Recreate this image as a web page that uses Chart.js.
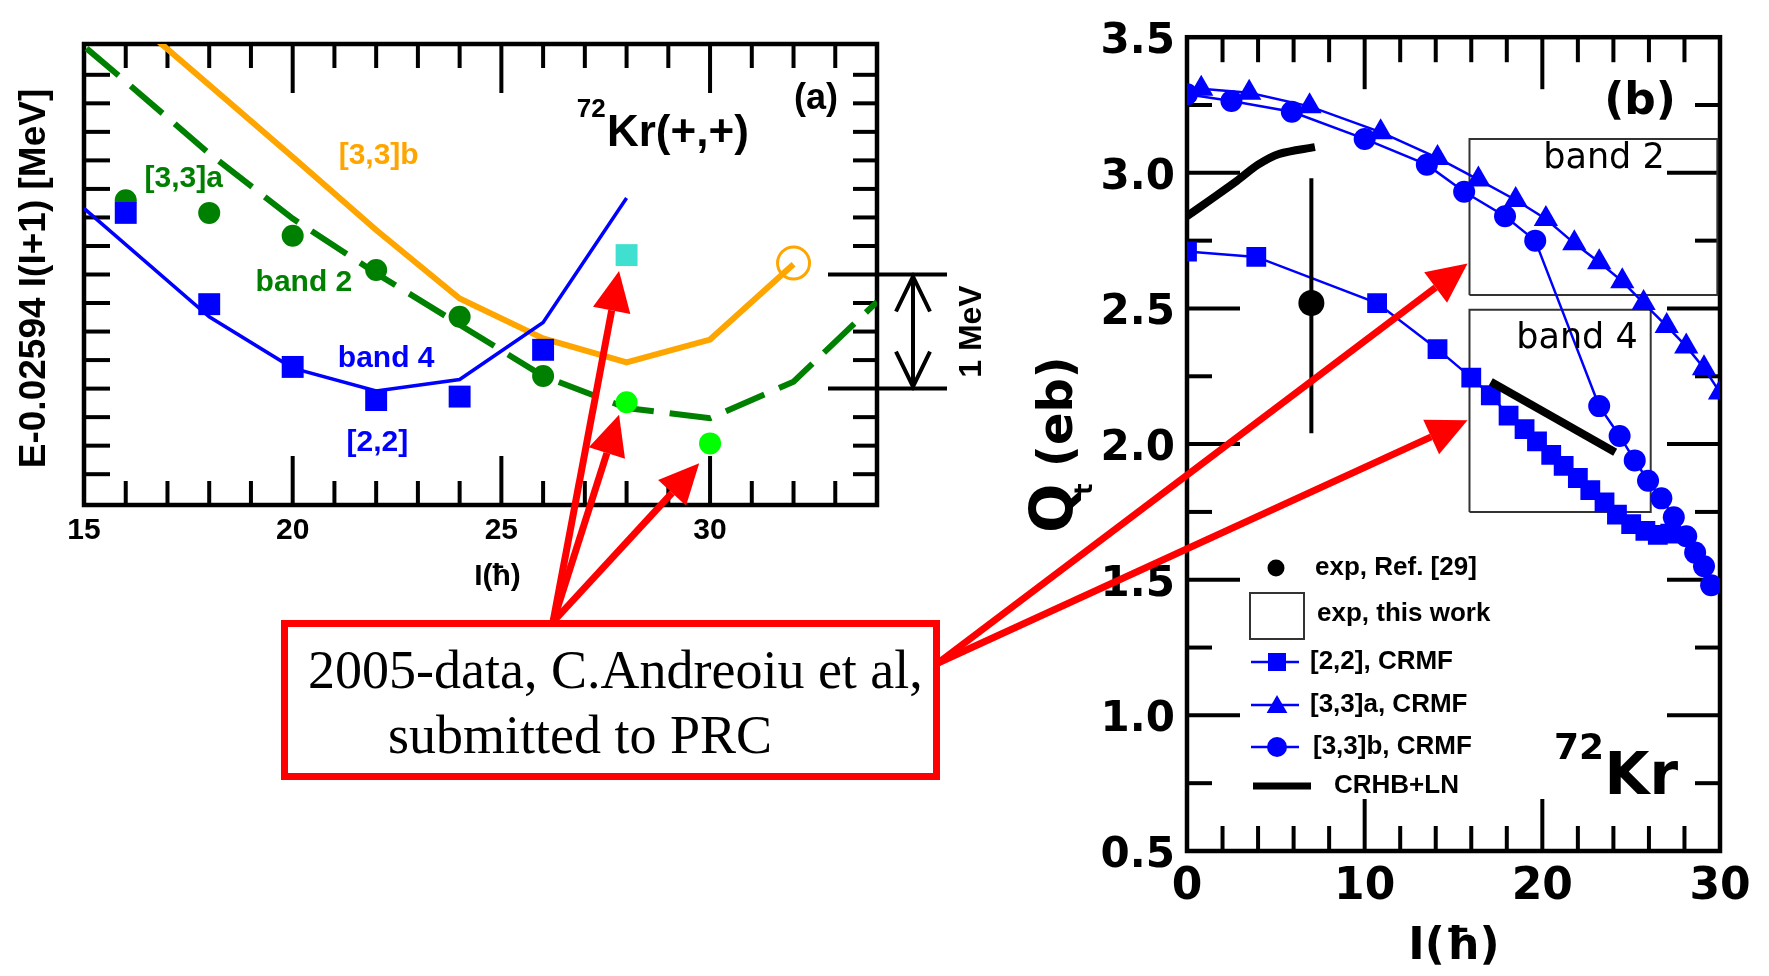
<!DOCTYPE html>
<html>
<head>
<meta charset="utf-8">
<script src="https://cdn.jsdelivr.net/npm/chart.js@4.4.1/dist/chart.umd.min.js"></script>
<style>
  html, body { margin: 0; padding: 0; background: #fff; }
  body { width: 1769px; height: 976px; position: relative; overflow: hidden; }
  canvas { position: absolute; }
  #chartA { left: 0; top: 0; }
  #chartB { left: 1000px; top: 0; }
  #overlay { left: 0; top: 0; pointer-events: none; }
  #note { position: absolute; left: 281px; top: 620px; width: 659px; height: 160px; border: 7px solid #ff0000; box-sizing: border-box; }
  .noteLine { position: absolute; font-family: "Liberation Serif", "Times New Roman", serif; font-size: 54px; line-height: 60px; white-space: nowrap; color: #000; }
</style>
</head>
<body>
<canvas id="chartA" width="1000" height="600"></canvas>
<canvas id="chartB" width="769" height="976"></canvas>
<div id="note"></div>
<div class="noteLine" style="left:308px;top:640px">2005-data, C.Andreoiu et al,</div>
<div class="noteLine" style="left:388px;top:705px">submitted to PRC</div>
<canvas id="overlay" width="1769" height="976"></canvas>
<script>
// ---------- panel (a): E - 0.02594 I(I+1) [MeV] vs I ----------
const spinExpA = [16, 18, 20, 22, 24, 26];
const band4Exp = [2.54, 1.74, 1.19, 0.90, 0.93, 1.34];
const band2Exp = [2.65, 2.54, 2.34, 2.04, 1.63, 1.11];
const spinNew2 = [28, 30];
const band2New = [0.88, 0.52];
const spinNew4 = [28];
const band4New = [2.17];
const spinCalc22 = [15, 18, 20, 22, 24, 26, 28];
const calc22 = [2.58, 1.63, 1.18, 0.98, 1.08, 1.58, 2.67];
const spinCalc33a = [14, 16, 18, 20, 22, 24, 26, 28, 30, 32, 34];
const calc33a = [4.31, 3.69, 3.06, 2.49, 2.01, 1.56, 1.11, 0.83, 0.74, 1.06, 1.76];
const spinCalc33b = [16, 18, 20, 22, 24, 26, 28, 30, 32];
const calc33b = [4.29, 3.66, 3.03, 2.39, 1.79, 1.44, 1.23, 1.43, 2.09];
const spinOpen = [32];
const openVal = [2.10];
const xTicksA = [15, 20, 25, 30];

// ---------- panel (b): Qt (eb) vs I ----------
const spin22 = [0, 3.9, 10.7, 14.1, 16.0, 17.1, 18.1, 19.0, 19.7, 20.5, 21.2, 22.0, 22.7, 23.5, 24.2, 25.0, 25.8, 26.5, 27.2];
const qt22 = [2.71, 2.69, 2.52, 2.35, 2.245, 2.18, 2.105, 2.055, 2.01, 1.96, 1.92, 1.875, 1.83, 1.785, 1.74, 1.705, 1.68, 1.665, 1.67];
const spin33a = [0.8, 3.5, 6.9, 10.9, 14.1, 16.4, 18.5, 20.2, 21.8, 23.2, 24.5, 25.7, 27.0, 28.1, 29.1, 30.0];
const qt33a = [3.31, 3.295, 3.245, 3.15, 3.055, 2.975, 2.90, 2.83, 2.74, 2.67, 2.60, 2.52, 2.435, 2.36, 2.28, 2.19];
const spin33b = [0, 2.5, 5.9, 10.0, 13.5, 15.6, 17.9, 19.6, 23.2, 24.35, 25.2, 25.95, 26.7, 27.4, 28.1, 28.6, 29.1, 29.5];
const qt33b = [3.29, 3.265, 3.225, 3.125, 3.03, 2.93, 2.84, 2.75, 2.14, 2.03, 1.94, 1.865, 1.80, 1.73, 1.66, 1.60, 1.55, 1.48];
const spinCrhb1 = [0, 1.3, 2.8, 4.0, 5.2, 7.2];
const qtCrhb1 = [2.84, 2.90, 2.97, 3.03, 3.07, 3.095];
const spinCrhb2 = [17.1, 24.1];
const qtCrhb2 = [2.23, 1.97];
const spinRef = [7.0];
const qtRef = [2.52];
const qtRefErr = [2.04, 2.98];
const band2Box = { I: [15.9, 29.85], Q: [2.55, 3.125] };
const band4Box = { I: [15.9, 26.1], Q: [1.75, 2.495] };
const xTicksB = [0, 10, 20, 30];
const yTicksB = [0.5, 1.0, 1.5, 2.0, 2.5, 3.0, 3.5];
const legendB = ['exp, Ref. [29]', 'exp, this work', '[2,2], CRMF', '[3,3]a, CRMF', '[3,3]b, CRMF', 'CRHB+LN'];

// arrow tips [I, value] in each panel
const arrowTipsA = [[27.82, 2.03], [27.82, 0.77], [29.74, 0.345]];
const arrowTipsB = [[15.79, 2.666], [15.79, 2.088]];

const FONT_A = '"Liberation Sans", Arial, Helvetica, sans-serif';
const FONT_B = '"DejaVu Sans", Verdana, sans-serif';
const BLUE = '#0000ff', GREEN = '#008000', ORANGE = '#ffa500';

function pts(xs, ys) { return xs.map((x, i) => ({ x: x, y: ys[i] })); }
function boxPts(b) {
  return [{ x: b.I[0], y: b.Q[0] }, { x: b.I[1], y: b.Q[0] }, { x: b.I[1], y: b.Q[1] }, { x: b.I[0], y: b.Q[1] }, { x: b.I[0], y: b.Q[0] }];
}
function seg(ctx, x0, y0, x1, y1) { ctx.beginPath(); ctx.moveTo(x0, y0); ctx.lineTo(x1, y1); ctx.stroke(); }
function label(ctx, s, x, y, font, color, align) {
  ctx.font = font; ctx.fillStyle = color || '#000';
  ctx.textAlign = align || 'center'; ctx.textBaseline = 'middle';
  ctx.fillText(s, x, y);
}
function tri(ctx, x, y, r) {
  ctx.beginPath();
  ctx.moveTo(x, y - r);
  ctx.lineTo(x + r * 0.866, y + r * 0.5);
  ctx.lineTo(x - r * 0.866, y + r * 0.5);
  ctx.closePath(); ctx.fill();
}
function dot(ctx, x, y, r) { ctx.beginPath(); ctx.arc(x, y, r, 0, Math.PI * 2); ctx.fill(); }

// ---------- chart (a) ----------
const decoA = {
  id: 'decoA',
  beforeDatasetsDraw(chart) {
    const ctx = chart.ctx, a = chart.chartArea, xs = chart.scales.x, ys = chart.scales.y;
    ctx.save();
    ctx.strokeStyle = '#000'; ctx.lineWidth = 4;
    for (let v = 16; v < 34; v++) {
      const len = xTicksA.includes(v) ? 49 : 24, px = xs.getPixelForValue(v);
      seg(ctx, px, a.bottom, px, a.bottom - len);
      seg(ctx, px, a.top, px, a.top + len);
    }
    for (let v = 0.25; v < 4; v += 0.25) {
      const py = ys.getPixelForValue(v);
      seg(ctx, a.left, py, a.left + 26, py);
      const len = (v === 1 || v === 2) ? 49 : 24;
      seg(ctx, a.right, py, a.right - len, py);
    }
    ctx.lineWidth = 4.5;
    ctx.strokeRect(a.left, a.top, a.right - a.left, a.bottom - a.top);
    ctx.restore();
  },
  afterDatasetsDraw(chart) {
    const ctx = chart.ctx, a = chart.chartArea, xs = chart.scales.x, ys = chart.scales.y;
    ctx.save();
    const labelsA = [
      { text: '[3,3]b', x: 22.06, y: 3.04, color: ORANGE },
      { text: '[3,3]a', x: 17.39, y: 2.84, color: GREEN },
      { text: 'band 2', x: 20.27, y: 1.93, color: GREEN },
      { text: 'band 4', x: 22.24, y: 1.26, color: BLUE },
      { text: '[2,2]', x: 22.03, y: 0.53, color: BLUE }
    ];
    labelsA.forEach(l => label(ctx, l.text, xs.getPixelForValue(l.x), ys.getPixelForValue(l.y), 'bold 30px ' + FONT_A, l.color));
    label(ctx, '(a)', xs.getPixelForValue(32.54), ys.getPixelForValue(3.54), 'bold 36px ' + FONT_A, '#000');
    label(ctx, '72', xs.getPixelForValue(27.5), ys.getPixelForValue(3.44), 'bold 26px ' + FONT_A, '#000', 'right');
    label(ctx, 'Kr(+,+)', xs.getPixelForValue(27.53), ys.getPixelForValue(3.23), 'bold 44px ' + FONT_A, '#000', 'left');

    // axis titles
    label(ctx, 'I(ħ)', (a.left + a.right) / 2 + 17, 577, 'bold 30px ' + FONT_A, '#000');
    ctx.save();
    ctx.translate(45, (a.top + a.bottom) / 2 + 4);
    ctx.rotate(-Math.PI / 2);
    ctx.font = 'bold 37px ' + FONT_A; ctx.fillStyle = '#000';
    ctx.textAlign = 'center'; ctx.textBaseline = 'alphabetic';
    ctx.fillText('E-0.02594 I(I+1) [MeV]', 0, 0);
    ctx.restore();

    // 1 MeV scale bar
    const y1 = ys.getPixelForValue(1), y2 = ys.getPixelForValue(2), bx = a.right + 36;
    ctx.strokeStyle = '#000'; ctx.lineWidth = 4;
    seg(ctx, a.right, y1, a.right + 70, y1);
    seg(ctx, a.right, y2, a.right + 70, y2);
    seg(ctx, bx, y2, bx, y1);
    ctx.beginPath();
    ctx.moveTo(bx - 17, y2 + 37); ctx.lineTo(bx, y2 + 2); ctx.lineTo(bx + 17, y2 + 37);
    ctx.moveTo(bx - 17, y1 - 37); ctx.lineTo(bx, y1 - 2); ctx.lineTo(bx + 17, y1 - 37);
    ctx.stroke();
    ctx.save();
    ctx.translate(a.right + 104, (y1 + y2) / 2);
    ctx.rotate(-Math.PI / 2);
    ctx.font = 'bold 32px ' + FONT_A; ctx.fillStyle = '#000';
    ctx.textAlign = 'center'; ctx.textBaseline = 'alphabetic';
    ctx.fillText('1 MeV', 0, 0);
    ctx.restore();
    ctx.restore();
  }
};

const chartA = new Chart(document.getElementById('chartA'), {
  type: 'scatter',
  data: {
    datasets: [
      { label: '[3,3]b calc', data: pts(spinCalc33b, calc33b), showLine: true, borderColor: ORANGE, borderWidth: 6, pointRadius: 0, order: 9 },
      { label: '[3,3]a calc', data: pts(spinCalc33a, calc33a), showLine: true, borderColor: GREEN, borderWidth: 6, borderDash: [42, 16], pointRadius: 0, order: 8 },
      { label: '[2,2] calc', data: pts(spinCalc22, calc22), showLine: true, borderColor: BLUE, borderWidth: 3.5, pointRadius: 0, order: 7 },
      { label: 'band 4', data: pts(spinExpA, band4Exp), pointStyle: 'rect', pointRadius: 15.5, pointBackgroundColor: BLUE, pointBorderWidth: 0, order: 5 },
      { label: 'band 2', data: pts(spinExpA, band2Exp), pointStyle: 'circle', pointRadius: 11, pointBackgroundColor: GREEN, pointBorderWidth: 0, order: 5 },
      { label: 'band 4 new', data: pts(spinNew4, band4New), pointStyle: 'rect', pointRadius: 15.5, pointBackgroundColor: '#40e0d0', pointBorderWidth: 0, order: 4 },
      { label: 'band 2 new', data: pts(spinNew2, band2New), pointStyle: 'circle', pointRadius: 11, pointBackgroundColor: '#00ff00', pointBorderWidth: 0, order: 4 },
      { label: '[3,3]b end', data: pts(spinOpen, openVal), pointStyle: 'circle', pointRadius: 16, pointBackgroundColor: 'rgba(0,0,0,0)', pointBorderColor: ORANGE, pointBorderWidth: 3, order: 3 }
    ]
  },
  options: {
    responsive: false, animation: false, events: [],
    layout: { padding: { left: 0, top: 44, right: 123, bottom: 0 } },
    plugins: { legend: { display: false }, tooltip: { enabled: false } },
    scales: {
      x: {
        type: 'linear', min: 15, max: 34,
        afterBuildTicks: s => { s.ticks = xTicksA.map(v => ({ value: v })); },
        afterFit: s => { s.height = 95; },
        grid: { display: false, drawTicks: false }, border: { display: false },
        ticks: { color: '#000', padding: 8, maxRotation: 0, autoSkip: false, font: { family: FONT_A, size: 30, weight: 'bold' } }
      },
      y: {
        type: 'linear', min: -0.02, max: 4.02,
        afterFit: s => { s.width = 84; },
        grid: { display: false, drawTicks: false }, border: { display: false },
        ticks: { display: false }
      }
    }
  },
  plugins: [decoA]
});

// ---------- chart (b) ----------
const decoB = {
  id: 'decoB',
  beforeDatasetsDraw(chart) {
    const ctx = chart.ctx, a = chart.chartArea, xs = chart.scales.x, ys = chart.scales.y;
    ctx.save();
    ctx.strokeStyle = '#000'; ctx.lineWidth = 4;
    for (let v = 2; v < 30; v += 2) {
      const len = v % 10 === 0 ? 52 : 25, px = xs.getPixelForValue(v);
      seg(ctx, px, a.bottom, px, a.bottom - len);
      seg(ctx, px, a.top, px, a.top + len);
    }
    for (let v = 0.75; v < 3.5; v += 0.25) {
      const len = (v * 2) % 1 === 0 ? 53 : 25, py = ys.getPixelForValue(v);
      seg(ctx, a.left, py, a.left + len, py);
      seg(ctx, a.right, py, a.right - len, py);
    }
    ctx.lineWidth = 4.5;
    ctx.strokeRect(a.left, a.top, a.right - a.left, a.bottom - a.top);
    ctx.restore();
  },
  afterDatasetsDraw(chart) {
    const ctx = chart.ctx, a = chart.chartArea, xs = chart.scales.x, ys = chart.scales.y;
    ctx.save();
    label(ctx, '(b)', xs.getPixelForValue(25.5), ys.getPixelForValue(3.26), 'bold 44px ' + FONT_B, '#000');
    label(ctx, 'band 2', xs.getPixelForValue(23.47), ys.getPixelForValue(3.05), '35px ' + FONT_B, '#000');
    label(ctx, 'band 4', xs.getPixelForValue(21.95), ys.getPixelForValue(2.386), '35px ' + FONT_B, '#000');
    label(ctx, '72', xs.getPixelForValue(23.47), ys.getPixelForValue(0.875), 'bold 36px ' + FONT_B, '#000', 'right');
    label(ctx, 'Kr', xs.getPixelForValue(23.5), ys.getPixelForValue(0.766), 'bold 58px ' + FONT_B, '#000', 'left');

    // legend
    const lf = 'bold 26px ' + FONT_A;
    ctx.fillStyle = '#000';
    dot(ctx, 276, 568, 8.5);
    label(ctx, legendB[0], 315, 568, lf, '#000', 'left');
    ctx.strokeStyle = '#333'; ctx.lineWidth = 2;
    ctx.strokeRect(250, 593, 54, 46);
    label(ctx, legendB[1], 317, 614, lf, '#000', 'left');
    ctx.strokeStyle = BLUE; ctx.fillStyle = BLUE; ctx.lineWidth = 2.5;
    seg(ctx, 251, 662, 299, 662); ctx.fillRect(268, 653, 18, 18);
    label(ctx, legendB[2], 310, 662, lf, '#000', 'left');
    ctx.fillStyle = BLUE;
    seg(ctx, 251, 705, 299, 705); tri(ctx, 277, 707, 12);
    label(ctx, legendB[3], 310, 705, lf, '#000', 'left');
    ctx.fillStyle = BLUE;
    seg(ctx, 251, 747, 299, 747); dot(ctx, 277, 747, 10);
    label(ctx, legendB[4], 313, 747, lf, '#000', 'left');
    ctx.strokeStyle = '#000'; ctx.lineWidth = 7;
    seg(ctx, 253, 786, 311, 786);
    label(ctx, legendB[5], 334, 786, lf, '#000', 'left');

    // axis titles
    label(ctx, 'I(ħ)', 454, 948, 'bold 44px ' + FONT_B, '#000');
    ctx.save();
    ctx.translate(72, 533);
    ctx.rotate(-Math.PI / 2);
    ctx.fillStyle = '#000'; ctx.textAlign = 'left'; ctx.textBaseline = 'alphabetic';
    ctx.font = 'bold 58px ' + FONT_B; ctx.fillText('Q', 0, 0);
    ctx.font = 'bold 24px ' + FONT_B; ctx.fillText('t', 38, 20);
    ctx.font = 'bold 48px ' + FONT_B; ctx.fillText('(eb)', 66, 0);
    ctx.restore();
    ctx.restore();
  }
};

const chartB = new Chart(document.getElementById('chartB'), {
  type: 'scatter',
  data: {
    datasets: [
      { label: 'band 2 box', data: boxPts(band2Box), showLine: true, borderColor: '#333', borderWidth: 2, pointRadius: 0, order: 10 },
      { label: 'band 4 box', data: boxPts(band4Box), showLine: true, borderColor: '#333', borderWidth: 2, pointRadius: 0, order: 10 },
      { label: '[2,2], CRMF', data: pts(spin22, qt22), showLine: true, borderColor: BLUE, borderWidth: 2.5, pointStyle: 'rect', pointRadius: 14, pointBackgroundColor: BLUE, pointBorderWidth: 0, order: 6 },
      { label: '[3,3]a, CRMF', data: pts(spin33a, qt33a), showLine: true, borderColor: BLUE, borderWidth: 2.5, pointStyle: 'triangle', pointRadius: 14, pointBackgroundColor: BLUE, pointBorderWidth: 0, order: 5 },
      { label: '[3,3]b, CRMF', data: pts(spin33b, qt33b), showLine: true, borderColor: BLUE, borderWidth: 2.5, pointStyle: 'circle', pointRadius: 11, pointBackgroundColor: BLUE, pointBorderWidth: 0, order: 4 },
      { label: 'CRHB+LN', data: pts(spinCrhb1, qtCrhb1), showLine: true, borderColor: '#000', borderWidth: 8, pointRadius: 0, tension: 0.3, order: 3 },
      { label: 'CRHB+LN 2', data: pts(spinCrhb2, qtCrhb2), showLine: true, borderColor: '#000', borderWidth: 8, pointRadius: 0, order: 3 },
      { label: 'err', data: pts([spinRef[0], spinRef[0]], qtRefErr), showLine: true, borderColor: '#000', borderWidth: 4, pointRadius: 0, order: 2 },
      { label: 'exp, Ref. [29]', data: pts(spinRef, qtRef), pointStyle: 'circle', pointRadius: 13, pointBackgroundColor: '#000', pointBorderWidth: 0, order: 1 }
    ]
  },
  options: {
    responsive: false, animation: false, events: [],
    layout: { padding: { left: 0, top: 27, right: 49, bottom: 0 } },
    plugins: { legend: { display: false }, tooltip: { enabled: false } },
    scales: {
      x: {
        type: 'linear', min: 0, max: 30,
        afterBuildTicks: s => { s.ticks = xTicksB.map(v => ({ value: v })); },
        afterFit: s => { s.height = 125; },
        grid: { display: false, drawTicks: false }, border: { display: false },
        ticks: { color: '#000', padding: 10, maxRotation: 0, autoSkip: false, font: { family: FONT_B, size: 44, weight: 'bold' } }
      },
      y: {
        type: 'linear', min: 0.5, max: 3.5,
        afterBuildTicks: s => { s.ticks = yTicksB.map(v => ({ value: v })); },
        afterFit: s => { s.width = 187; },
        grid: { display: false, drawTicks: false }, border: { display: false },
        ticks: { color: '#000', padding: 12, labelOffset: 5, autoSkip: false, font: { family: FONT_B, size: 42, weight: 'bold' }, callback: v => Number(v).toFixed(1) }
      }
    }
  },
  plugins: [decoB]
});

// ---------- red arrows from the note box ----------
function arrow(ctx, x0, y0, x1, y1) {
  const ang = Math.atan2(y1 - y0, x1 - x0), L = 40, W = 19;
  const bx = x1 - L * Math.cos(ang), by = y1 - L * Math.sin(ang);
  ctx.beginPath(); ctx.moveTo(x0, y0); ctx.lineTo(bx, by); ctx.stroke();
  ctx.beginPath();
  ctx.moveTo(x1, y1);
  ctx.lineTo(bx + W * Math.sin(ang), by - W * Math.cos(ang));
  ctx.lineTo(bx - W * Math.sin(ang), by + W * Math.cos(ang));
  ctx.closePath(); ctx.fill();
}

const ov = document.getElementById('overlay').getContext('2d');
ov.strokeStyle = '#ff0000'; ov.fillStyle = '#ff0000'; ov.lineWidth = 7;
const note = document.getElementById('note').getBoundingClientRect();
const tailA = { x: note.left + 272, y: note.top + 2 };
const tailB = { x: note.right - 2, y: note.top + 43 };
const xa = chartA.scales.x, ya = chartA.scales.y, xb = chartB.scales.x, yb = chartB.scales.y;
arrowTipsA.forEach(t => arrow(ov, tailA.x, tailA.y, xa.getPixelForValue(t[0]), ya.getPixelForValue(t[1])));
arrowTipsB.forEach(t => arrow(ov, tailB.x, tailB.y, 1000 + xb.getPixelForValue(t[0]), yb.getPixelForValue(t[1])));
</script>
</body>
</html>
